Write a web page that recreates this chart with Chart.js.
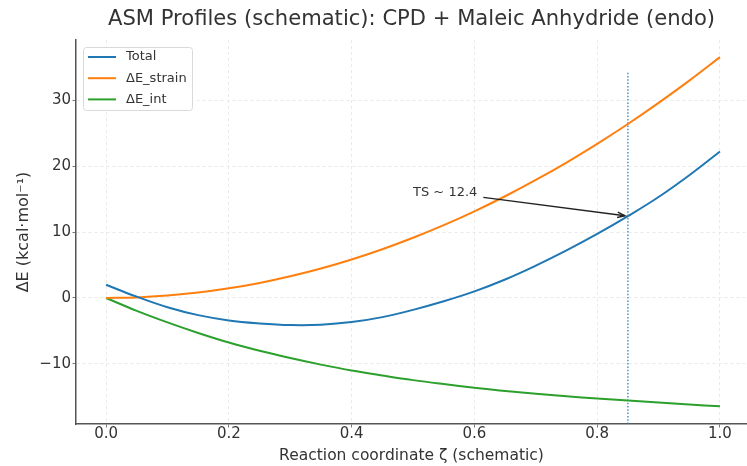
<!DOCTYPE html>
<html>
<head>
<meta charset="utf-8">
<script src="https://cdn.jsdelivr.net/npm/chart.js@4.4.1/dist/chart.umd.min.js"></script>
<style>
  html, body { margin: 0; padding: 0; background: #ffffff; overflow: hidden; }
  #wrap { width: 747px; height: 466px; position: relative; }
</style>
</head>
<body>
<div id="wrap"><canvas id="c"></canvas></div>
<script>
// ---- data ----
const zeta = [0.00, 0.05, 0.10, 0.15, 0.20, 0.25, 0.30, 0.35, 0.40, 0.45, 0.50,
              0.55, 0.60, 0.65, 0.70, 0.75, 0.80, 0.85, 0.90, 0.95, 1.00];
const totalE = [2.0, 0.2, -1.4, -2.6, -3.4, -3.85, -4.1, -4.05, -3.65, -2.9, -1.8,
                -0.5, 1.0, 2.8, 4.9, 7.2, 9.7, 12.4, 15.3, 18.6, 22.2];
const strainE = [0.0, 0.09, 0.37, 0.82, 1.46, 2.28, 3.29, 4.47, 5.84, 7.39, 9.13,
                 11.04, 13.14, 15.42, 17.89, 20.53, 23.36, 26.37, 29.57, 32.94, 36.5];
const intE = [0.0, -1.95, -3.7, -5.3, -6.75, -8.0, -9.1, -10.1, -11.0, -11.75, -12.45,
              -13.05, -13.6, -14.1, -14.5, -14.9, -15.25, -15.55, -15.85, -16.15, -16.4];
const seriesNames = ['Total', '\u0394E_strain', '\u0394E_int'];
const xTicks = [0.0, 0.2, 0.4, 0.6, 0.8, 1.0];
const yTicks = [-10, 0, 10, 20, 30];
const tsZeta = 0.85;
const tsValue = 12.4;
const tsLineTop = 34.3;
const tsLabel = 'TS ~ 12.4';
const tsTextAt = [0.5, 16];
const xRange = [-0.049, 1.044];
const yRange = [-19.1, 39.1];
const titleText = 'ASM Profiles (schematic): CPD + Maleic Anhydride (endo)';
const xTitle = 'Reaction coordinate \u03b6 (schematic)';
const yTitle = '\u0394E (kcal\u00b7mol\u207b\u00b9)';

const colors = ['#1f77b4', '#ff7f0e', '#2ca02c'];
const FONT = "'DejaVu Sans', sans-serif";
const TXT = '#333333';

const pts = (ys) => zeta.map((z, i) => ({x: z, y: ys[i]}));

const datasets = [totalE, strainE, intE].map((ys, i) => ({
  label: seriesNames[i],
  data: pts(ys),
  borderColor: colors[i],
  backgroundColor: colors[i],
  borderWidth: 2,
  pointRadius: 0,
  showLine: true,
  tension: 0.4,
  fill: false
}));
datasets.push({
  label: 'TS line',
  data: [{x: tsZeta, y: yRange[0]}, {x: tsZeta, y: tsLineTop}],
  borderColor: 'rgba(31,119,180,0.8)',
  borderWidth: 1.5,
  borderDash: [1.5, 1.8],
  pointRadius: 0,
  showLine: true,
  tension: 0,
  fill: false
});

const overlay = {
  id: 'overlay',
  afterDatasetsDraw(chart) {
    const {ctx, chartArea, scales} = chart;
    const xs = scales.x, ys = scales.y;
    ctx.save();
    // title
    ctx.fillStyle = TXT;
    ctx.font = `21.1px ${FONT}`;
    ctx.textAlign = 'center';
    ctx.textBaseline = 'middle';
    ctx.fillText(titleText, (chartArea.left + chartArea.right) / 2, 20);

    // annotation
    ctx.font = `13px ${FONT}`;
    ctx.textAlign = 'left';
    const tx = xs.getPixelForValue(tsTextAt[0]);
    const ty = ys.getPixelForValue(tsTextAt[1]);
    ctx.fillText(tsLabel, tx, ty);
    const tw = ctx.measureText(tsLabel).width;
    const px = xs.getPixelForValue(tsZeta), py = ys.getPixelForValue(tsValue);
    const cx = tx + tw / 2, cy = ty;
    const sx = tx + tw + 6;
    const sy = cy + (py - cy) * (sx - cx) / (px - cx);
    const ang = Math.atan2(py - sy, px - sx);
    const ex = px - 3 * Math.cos(ang), ey = py - 3 * Math.sin(ang);
    ctx.strokeStyle = '#222';
    ctx.lineWidth = 1.4;
    ctx.beginPath();
    ctx.moveTo(sx, sy);
    ctx.lineTo(ex, ey);
    ctx.stroke();
    ctx.beginPath();
    const hl = 8, ha = 0.35;
    ctx.moveTo(ex - hl * Math.cos(ang - ha), ey - hl * Math.sin(ang - ha));
    ctx.lineTo(ex, ey);
    ctx.lineTo(ex - hl * Math.cos(ang + ha), ey - hl * Math.sin(ang + ha));
    ctx.stroke();

    // legend
    const lx = chartArea.left + 7, ly = chartArea.top + 7;
    const lw = 109, lh = 63;
    ctx.fillStyle = 'rgba(255,255,255,0.85)';
    ctx.strokeStyle = '#d9d9d9';
    ctx.lineWidth = 1;
    ctx.beginPath();
    ctx.roundRect(lx + 0.5, ly + 0.5, lw, lh, 3);
    ctx.fill();
    ctx.stroke();
    ctx.font = `13px ${FONT}`;
    ctx.textBaseline = 'middle';
    for (let i = 0; i < 3; i++) {
      const ry = ly + 10 + i * 21.2;
      ctx.strokeStyle = colors[i];
      ctx.lineWidth = 2;
      ctx.beginPath();
      ctx.moveTo(lx + 5, ry);
      ctx.lineTo(lx + 33, ry);
      ctx.stroke();
      ctx.fillStyle = TXT;
      ctx.fillText(seriesNames[i], lx + 43, ry);
    }
    ctx.restore();
  }
};

const fmtY = (v) => v < 0 ? '\u2212' + Math.abs(v) : String(v);

new Chart(document.getElementById('c'), {
  type: 'scatter',
  data: { datasets },
  options: {
    responsive: true,
    maintainAspectRatio: false,
    animation: false,
    layout: { padding: { top: 40, right: 0, bottom: 0, left: 0 } },
    plugins: { legend: { display: false }, tooltip: { enabled: false }, title: { display: false } },
    scales: {
      x: {
        type: 'linear',
        min: xRange[0], max: xRange[1],
        afterBuildTicks: (s) => { s.ticks = xTicks.map(v => ({value: v})); },
        afterFit: (s) => { s.height = 42; },
        ticks: { callback: (v) => Number(v).toFixed(1), color: TXT, font: { family: FONT, size: 15 }, padding: -2, maxRotation: 0 },
        grid: { color: '#e5e5e5', tickColor: '#555', tickLength: 3.5, lineWidth: 0.8 },
        border: { color: '#555', width: 1.5, dash: [3, 3] },
        title: { display: true, text: xTitle, color: TXT, font: { family: FONT, size: 15.5 }, padding: { top: 0, bottom: 0.5 } }
      },
      y: {
        type: 'linear',
        min: yRange[0], max: yRange[1],
        afterBuildTicks: (s) => { s.ticks = yTicks.map(v => ({value: v})); },
        afterFit: (s) => { s.width = 76; },
        ticks: { callback: (v) => fmtY(v), color: TXT, font: { family: FONT, size: 15 }, padding: 1.5 },
        grid: { color: '#e5e5e5', tickColor: '#555', tickLength: 3.5, lineWidth: 0.8 },
        border: { color: '#555', width: 1.5, dash: [3, 3] },
        title: { display: true, text: yTitle, color: TXT, font: { family: FONT, size: 16 }, padding: { top: 14.5, bottom: 0 } }
      }
    }
  },
  plugins: [overlay]
});
</script>
</body>
</html>
